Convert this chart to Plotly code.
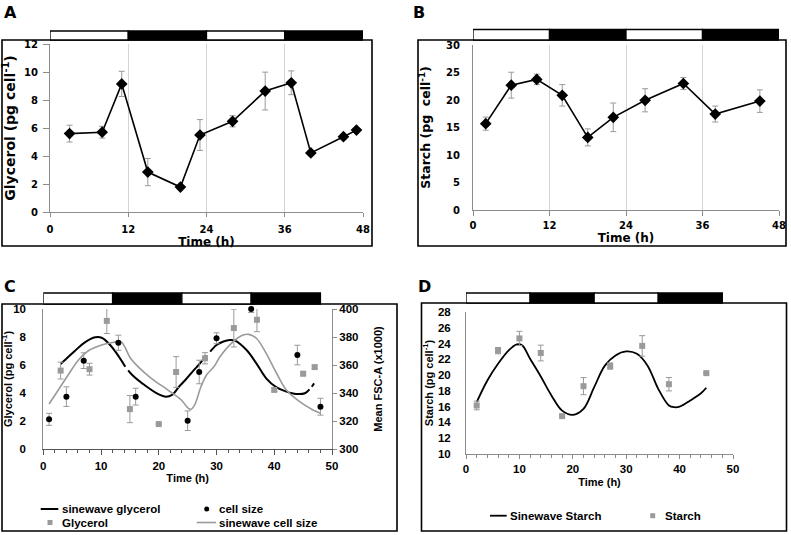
import plotly.graph_objects as go

W, H = 791, 535

# ---- data ----
glyc_t = [3, 8, 11, 15, 20, 23, 28, 33, 37, 40, 45, 47]
glyc_val = [5.6, 5.7, 9.15, 2.85, 1.78, 5.5, 6.48, 8.64, 9.23, 4.22, 5.38, 5.85]
glyc_err = [0.6, 0.42, 0.9, 0.97, 0.0, 1.1, 0.4, 1.35, 0.85, 0.1, 0.15, 0.1]

starch_t = [2, 6, 10, 14, 18, 22, 27, 33, 38, 45]
starch_b = [15.7, 22.7, 23.75, 20.85, 13.2, 16.85, 19.95, 23.0, 17.45, 19.8]
starch_b_err = [1.2, 2.35, 0.95, 1.95, 1.55, 2.6, 2.1, 1.1, 1.45, 2.05]
starch_d = [16.15, 23.1, 24.65, 22.8, 14.8, 18.6, 21.15, 23.7, 18.85, 20.25]
starch_d_err = [0.55, 0.4, 0.9, 1.0, 0.1, 1.08, 0.4, 1.3, 0.85, 0.1]

cell_t = [1, 4, 7, 13, 16, 25, 27, 30, 36, 44, 48]
cell_val = [321.2, 337.4, 363.1, 375.9, 337.4, 320.2, 355.0, 379.1, 400.0, 367.1, 330.2]
cell_err = [4.3, 7.0, 5.6, 5.4, 6.0, 7.0, 8.4, 3.9, 2.5, 7.0, 6.0]

# fitted curves (None = small breaks in the drawn line)
sine_glyc_t = [3.0, 5.5, 7.2, 9.0, 10.1, 11.3, 12.7, 14.2, None,
               14.7, 15.4, 17.7, 20.0, 21.2, 22.3, 23.6, 24.6, 26.0, 26.9, 28.3, None,
               28.9, 30.0, 31.2, 32.3, 33.2, 35.2, 36.9, 38.6, 40.4, 42.1, 43.8, 45.3, 46.1, None,
               46.5, 46.9]
sine_glyc_v = [6.07, 7.02, 7.62, 7.98, 7.95, 7.55, 6.83, 5.88, None,
               5.62, 5.29, 4.52, 3.9, 3.74, 3.86, 4.5, 4.93, 5.6, 6.0, 6.68, None,
               6.95, 7.43, 7.68, 7.79, 7.74, 7.07, 6.12, 5.05, 4.4, 4.1, 3.93, 3.98, 4.26, None,
               4.45, 4.69]
sine_cell_t = [1.0, 2.6, 4.3, 6.1, 7.8, 10.1, 11.8, 13.0, 13.5, 14.1, 15.0, 16.4, 18.7, 21.6,
               23.9, 25.0, 25.5, 26.2, 27.3, 28.3, 29.6, 30.6, 32.9, 34.6, 35.6, 36.9, 38.6,
               40.4, 42.1, 44.4, 46.7, 48.0]
sine_cell_v = [332.1, 342.1, 352.9, 363.6, 370.2, 374.3, 375.9, 376.7, 376.5, 373.1, 365.5,
               358.8, 350.5, 342.1, 335.0, 329.5, 328.3, 331.4, 344.5, 353.0, 359.0, 365.9,
               376.7, 381.4, 381.9, 379.1, 368.3, 354.1, 342.1, 333.8, 327.9, 325.5]
sine_starch_t = [2, 4, 6, 8, 9.5, 10.5, 12, 14, 16, 18, 20, 22, 24, 26, 28, 30, 32, 34, 36,
                 38, 39, 40, 42, 44, 45]
sine_starch_v = [16.57, 19.32, 21.44, 23.14, 23.9, 23.8, 22.08, 19.83, 17.42, 15.5, 14.96,
                 15.72, 18.47, 21.2, 22.5, 23.0, 22.7, 21.2, 18.26, 16.14, 15.93, 16.0, 16.78,
                 17.7, 18.4]

light_dark = [(0, 12, 'white'), (12, 24, 'black'), (24, 36, 'white'), (36, 48, 'black')]


def px(x):
    return x / W


def py(y):
    return 1 - y / H


GREY = '#9a9a9a'
AXG = '#8c8c8c'
FA = 'DejaVu Sans'
FC = 'Liberation Sans'

fig = go.Figure()

# A
fig.add_trace(go.Scatter(x=glyc_t, y=glyc_val, mode='lines+markers', xaxis='x', yaxis='y',
                         line=dict(color='black', width=1.6),
                         marker=dict(symbol='diamond', size=9, color='black'),
                         error_y=dict(type='data', array=glyc_err, color=GREY, thickness=1, width=3),
                         cliponaxis=False, showlegend=False))
# B
fig.add_trace(go.Scatter(x=starch_t, y=starch_b, mode='lines+markers', xaxis='x2', yaxis='y2',
                         line=dict(color='black', width=1.6),
                         marker=dict(symbol='diamond', size=9, color='black'),
                         error_y=dict(type='data', array=starch_b_err, color=GREY, thickness=1, width=3),
                         cliponaxis=False, showlegend=False))
# C
fig.add_trace(go.Scatter(x=sine_glyc_t, y=sine_glyc_v, mode='lines', xaxis='x3', yaxis='y3',
                         line=dict(color='black', width=2, shape='spline'),
                         connectgaps=False, showlegend=False))
fig.add_trace(go.Scatter(x=sine_cell_t, y=sine_cell_v, mode='lines', xaxis='x3', yaxis='y4',
                         line=dict(color=GREY, width=1.6, shape='spline'), showlegend=False))
fig.add_trace(go.Scatter(x=glyc_t, y=glyc_val, mode='markers', xaxis='x3', yaxis='y3',
                         marker=dict(symbol='square', size=6, color=GREY),
                         error_y=dict(type='data', array=glyc_err, color=GREY, thickness=1, width=3),
                         cliponaxis=False, showlegend=False))
fig.add_trace(go.Scatter(x=cell_t, y=cell_val, mode='markers', xaxis='x3', yaxis='y4',
                         marker=dict(symbol='circle', size=6, color='black'),
                         error_y=dict(type='data', array=cell_err, color=GREY, thickness=1, width=3),
                         cliponaxis=False, showlegend=False))
# D
fig.add_trace(go.Scatter(x=sine_starch_t, y=sine_starch_v, mode='lines', xaxis='x4', yaxis='y5',
                         line=dict(color='black', width=1.8, shape='spline'), showlegend=False))
fig.add_trace(go.Scatter(x=starch_t, y=starch_d, mode='markers', xaxis='x4', yaxis='y5',
                         marker=dict(symbol='square', size=6, color=GREY),
                         error_y=dict(type='data', array=starch_d_err, color=GREY, thickness=1, width=3),
                         cliponaxis=False, showlegend=False))


def tfont(fam, size):
    return dict(family=fam, size=size, color='black', weight='bold')


base_ab = dict(showline=True, linecolor=AXG, linewidth=1, zeroline=False,
               tickfont=tfont(FA, 10), tickcolor=AXG)
base_cd = dict(showline=True, linecolor=AXG, linewidth=1, zeroline=False, showgrid=False,
               tickfont=tfont(FC, 11.5), tickcolor=AXG)

fig.update_layout(
    width=W, height=H, margin=dict(l=0, r=0, t=0, b=0),
    template='none', paper_bgcolor='white', plot_bgcolor='rgba(0,0,0,0)',
    xaxis=dict(base_ab, domain=[px(50), px(363)], range=[0, 48], tickvals=[0, 12, 24, 36, 48],
               showgrid=True, gridcolor='#d4d4d4', ticks='outside', ticklen=4, ticklabelstandoff=4,
               anchor='y', title=dict(text='Time (h)', font=tfont(FA, 12), standoff=3)),
    yaxis=dict(base_ab, domain=[py(212), py(44)], range=[0, 12], dtick=2, showgrid=False,
               ticks='outside', ticklen=6, ticklabelstandoff=3, anchor='x',
               title=dict(text='Glycerol (pg cell<sup>-1</sup>)', font=tfont(FA, 14), standoff=9)),
    xaxis2=dict(base_ab, domain=[px(473), px(779)], range=[0, 48], tickvals=[0, 12, 24, 36, 48],
                showgrid=True, gridcolor='#d4d4d4', ticks='outside', ticklen=5, ticklabelstandoff=1,
                anchor='y2', title=dict(text='Time (h)', font=tfont(FA, 12), standoff=2)),
    yaxis2=dict(base_ab, domain=[py(210), py(45)], range=[0, 30], dtick=5, showgrid=False,
                ticks='', ticklabelstandoff=10, anchor='x2',
                title=dict(text='Starch (pg\u00a0 cell<sup>-1</sup>)', font=tfont(FA, 12.5), standoff=12)),
    xaxis3=dict(base_cd, domain=[px(43.3), px(332)], range=[0, 50], dtick=10, linecolor='#555555',
                ticks='outside', ticklen=5, tickcolor='#555555', ticklabelstandoff=1,
                minor=dict(dtick=2, ticks='outside', ticklen=3, tickcolor='#555555'),
                anchor='y3', title=dict(text='Time (h)', font=tfont(FC, 11), standoff=3)),
    yaxis3=dict(base_cd, domain=[py(449), py(309)], range=[0, 10], dtick=2, ticks='',
                ticklabelstandoff=14, anchor='x3',
                title=dict(text='Glycerol (pg cell<sup>-1</sup>)', font=tfont(FC, 11), standoff=0)),
    yaxis4=dict(base_cd, domain=[py(449), py(309)], range=[300, 400], dtick=20, ticks='outside',
                ticklen=4, overlaying='y3', side='right', anchor='x3',
                title=dict(text='Mean FSC-A (x1000)', font=tfont(FC, 11), standoff=16)),
    xaxis4=dict(base_cd, domain=[px(466), px(733)], range=[0, 50], dtick=10,
                ticks='outside', ticklen=4, ticklabelstandoff=0,
                minor=dict(dtick=2, ticks='outside', ticklen=3, tickcolor=AXG),
                anchor='y5', title=dict(text='Time (h)', font=tfont(FC, 11), standoff=4)),
    yaxis5=dict(base_cd, domain=[py(454), py(312)], range=[10, 28], dtick=2, ticks='',
                ticklabelstandoff=12, anchor='x4',
                title=dict(text='Starch (pg cell<sup>-1</sup>)', font=tfont(FC, 11), standoff=2)),
)

shapes = []
# panel frames
for x0, y0, x1, y1 in [(2, 40, 372, 246), (418, 40, 786, 246), (2, 304, 397, 531), (421.5, 303, 786.5, 531)]:
    shapes.append(dict(type='rect', xref='paper', yref='paper', x0=px(x0), x1=px(x1), y0=py(y1), y1=py(y0),
                       line=dict(color='black', width=1.6), fillcolor='rgba(0,0,0,0)', layer='above'))
# light / dark bars
for xr, top, bot in [('x', 31, 40), ('x2', 29.5, 40), ('x3', 293, 304), ('x4', 293, 303)]:
    for t0, t1, col in light_dark:
        shapes.append(dict(type='rect', xref=xr, yref='paper', x0=t0, x1=t1, y0=py(bot), y1=py(top),
                           fillcolor=col, line=dict(color='black', width=1.3)))

annotations = []
for lab, x, y in [('A', 10, 12), ('B', 419, 12), ('C', 10, 286), ('D', 425, 286)]:
    annotations.append(dict(text=lab, x=px(x), y=py(y), xref='paper', yref='paper', showarrow=False,
                            xanchor='center', yanchor='middle', font=tfont(FA, 16)))

# legend of C and D
leg_font = tfont(FC, 11.5)
legend_items = [
    ('line', 'black', 2, 40.7, 58.3, 509, 'sinewave glycerol', 60),
    ('dot', 'black', 0, 206.7, 206.7, 509, 'cell size', 216.7),
    ('square', GREY, 0, 50, 50, 522.5, 'Glycerol', 60),
    ('line', GREY, 1.6, 196.7, 216, 522.5, 'sinewave cell size', 217.3),
    ('line', 'black', 1.8, 490, 506.7, 515.7, 'Sinewave Starch', 507.7),
    ('square', GREY, 0, 652.7, 652.7, 515.7, 'Starch', 662.7),
]
for kind, col, lw, x0, x1, y, text, tx in legend_items:
    if kind == 'line':
        shapes.append(dict(type='line', xref='paper', yref='paper', x0=px(x0), x1=px(x1), y0=py(y), y1=py(y),
                           line=dict(color=col, width=lw)))
    elif kind == 'dot':
        shapes.append(dict(type='circle', xref='paper', yref='paper', x0=px(x0 - 2.5), x1=px(x0 + 2.5),
                           y0=py(y + 2.5), y1=py(y - 2.5), fillcolor=col, line=dict(width=0)))
    else:
        shapes.append(dict(type='rect', xref='paper', yref='paper', x0=px(x0 - 2.5), x1=px(x0 + 2.5),
                           y0=py(y + 2.5), y1=py(y - 2.5), fillcolor=col, line=dict(width=0)))
    annotations.append(dict(text=text, x=px(tx), y=py(y), xref='paper', yref='paper', showarrow=False,
                            xanchor='left', yanchor='middle', font=leg_font))

fig.update_layout(shapes=shapes, annotations=annotations)

# the page body has a default 8px margin; drop it so the figure sits at the window origin
fig.write_html("out.html", config={'displayModeBar': False},
               post_script="document.body.style.margin='0px';")
